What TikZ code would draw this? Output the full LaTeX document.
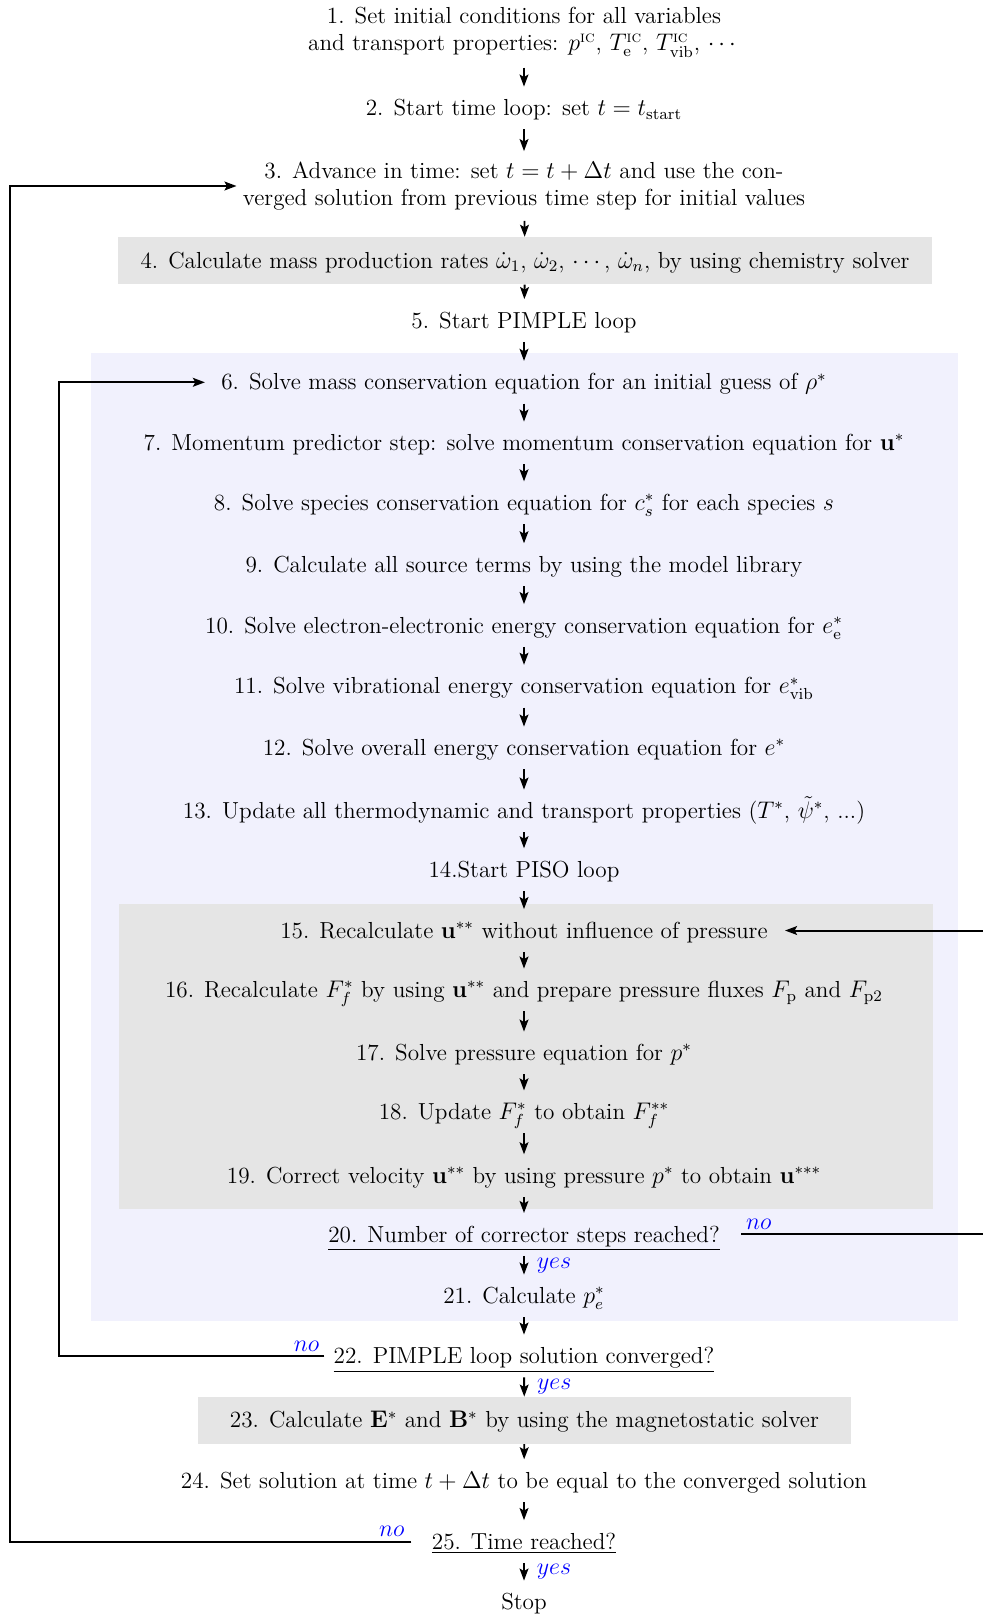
\documentclass[tikz,border=0pt]{standalone}
\usepackage{amsmath}
\usepackage{amssymb}
\usetikzlibrary{arrows.meta}
\definecolor{pimple_bg}{RGB}{241,241,253}
\definecolor{piso_bg}{RGB}{229,229,229}
\tikzset{
	flownode/.style = {
		align=center,
		inner xsep=5pt,
		inner ysep=2.8pt,
		text height=11.5pt,
		text depth=3.9pt,
		font=\fontsize{11.6}{13.8}\selectfont
	},
	node_step/.style = {
		flownode
	},
	node_two/.style = {
		flownode,
		text height=,
		text depth=,
		inner ysep=5pt
	},
	node_box/.style = {
		flownode,
		fill=piso_bg,
		minimum width=407pt,
		minimum height=23.5pt
	},
	node_box_small/.style = {
		node_box,
		minimum width=326.5pt,
		minimum height=23.3pt
	},
	node_dec/.style = {
		flownode,
		inner xsep=7pt
	},
	node_yes/.style = {
		font=\fontsize{12.8}{14}\selectfont,
		blue,
		right,
		inner sep=6pt
	},
	node_no/.style = {
		font=\fontsize{12.8}{14}\selectfont,
		blue,
		inner sep=2pt
	},
	line_step/.style = {
		->,
		line width=0.95pt
	},
	line_loop/.style = {
		->,
		line width=1pt
	}
}

\begin{document}
\begin{tikzpicture}[x=0.5pt, y=-0.5pt, >={Stealth[length=6pt, width=4.4pt, inset=1.2pt]}]
\useasboundingbox (0,0) rectangle (982,1616);
% loop backgrounds
\fill[pimple_bg] (90.7,353.4) rectangle (958.3,1321);
\fill[piso_bg] (118.5,903.7) rectangle (932.5,1208.7);
% steps
\node [node_two] (n1) at (524,32) {1. Set initial conditions for all variables\\and transport properties: $p^{\textsc{ic}}$, $T_{\mathrm{e}}^{\textsc{ic}}$, $T_{\mathrm{vib}}^{\textsc{ic}}$, $\cdots$};
\node [node_step] (n2) at (524,108) {2. Start time loop: set $t = t_{\mathrm{start}}$};
\node [node_two, inner xsep=3pt] (n3) at (524,186) {3. Advance in time: set $t = t + \Delta t$ and use the con-\\verged solution from previous time step for initial values};
\node [node_box] (n4) at (525,260.7) {4. Calculate mass production rates $\dot{\omega}_1$, $\dot{\omega}_2$, $\cdots$, $\dot{\omega}_n$, by using chemistry solver};
\node [node_step] (n5) at (524,320.5) {5. Start PIMPLE loop};
\node [node_step, inner xsep=8pt] (n6) at (524,382.3) {6. Solve mass conservation equation for an initial guess of $\rho^*$};
\node [node_step] (n7) at (524,443) {7. Momentum predictor step: solve momentum conservation equation for $\mathbf{u}^*$};
\node [node_step] (n8) at (524,502.8) {8. Solve species conservation equation for $c_s^*$ for each species $s$};
\node [node_step] (n9) at (524,564.7) {9. Calculate all source terms by using the model library};
\node [node_step] (n10) at (524,625.5) {10. Solve electron-electronic energy conservation equation for $e_{\mathrm{e}}^*$};
\node [node_step] (n11) at (524,686.2) {11. Solve vibrational energy conservation equation for $e_{\mathrm{vib}}^*$};
\node [node_step] (n12) at (524,748) {12. Solve overall energy conservation equation for $e^*$};
\node [node_step] (n13) at (524,811) {13. Update all thermodynamic and transport properties ($T^*$, $\tilde{\psi}^*$, ...)};
\node [node_step] (n14) at (524,869.7) {14.Start PISO loop};
\node [node_step, inner xsep=8.5pt] (n15) at (524,930.5) {15. Recalculate $\mathbf{u}^{**}$ without influence of pressure};
\node [node_step] (n16) at (524,990) {16. Recalculate $F_f^*$ by using $\mathbf{u}^{**}$ and prepare pressure fluxes $F_{\mathrm{p}}$ and $F_{\mathrm{p2}}$};
\node [node_step] (n17) at (524,1053) {17. Solve pressure equation for $p^*$};
\node [node_step] (n18) at (524,1111.8) {18. Update $F_f^*$ to obtain $F_f^{**}$};
\node [node_step] (n19) at (524,1175.7) {19. Correct velocity $\mathbf{u}^{**}$ by using pressure $p^*$ to obtain $\mathbf{u}^{***}$};
\node [node_dec, inner xsep=10.5pt] (n20) at (524,1234.4) {\underline{20. Number of corrector steps reached?}};
\node [node_step] (n21) at (524,1296) {21. Calculate $p_e^*$};
\node [node_dec, inner xsep=4.5pt] (n22) at (524,1356) {\underline{22. PIMPLE loop solution converged?}};
\node [node_box_small] (n23) at (524.4,1420.3) {23. Calculate $\mathbf{E}^*$ and $\mathbf{B}^*$ by using the magnetostatic solver};
\node [node_step] (n24) at (524,1480.7) {24. Set solution at time $t + \Delta t$ to be equal to the converged solution};
\node [node_dec, inner xsep=10pt] (n25) at (524,1541.5) {\underline{25. Time reached?}};
\node [node_step] (stop) at (524,1602) {Stop};
% loop return columns
\coordinate (x_time) at (10.3,0);
\coordinate (x_pimple) at (58.7,0);
\coordinate (x_piso) at (1000,0);
% main flow
\draw [line_step] (n1) -- (n2);
\draw [line_step] (n2) -- (n3);
\draw [line_step] (n3) -- (n4);
\draw [line_step] (n4) -- (n5);
\draw [line_step] (n5) -- (n6);
\draw [line_step] (n6) -- (n7);
\draw [line_step] (n7) -- (n8);
\draw [line_step] (n8) -- (n9);
\draw [line_step] (n9) -- (n10);
\draw [line_step] (n10) -- (n11);
\draw [line_step] (n11) -- (n12);
\draw [line_step] (n12) -- (n13);
\draw [line_step] (n13) -- (n14);
\draw [line_step] (n14) -- (n15);
\draw [line_step] (n15) -- (n16);
\draw [line_step] (n16) -- (n17);
\draw [line_step] (n17) -- (n18);
\draw [line_step] (n18) -- (n19);
\draw [line_step] (n19) -- (n20);
\draw [line_step] (n20) -- node [node_yes] {$yes$} (n21);
\draw [line_step] (n21) -- (n22);
\draw [line_step] (n22) -- node [node_yes] {$yes$} (n23);
\draw [line_step] (n23) -- (n24);
\draw [line_step] (n24) -- (n25);
\draw [line_step] (n25) -- node [node_yes] {$yes$} (stop);
% loops back
\draw [line_loop] (n20.east) -- node [node_no, pos=0, anchor=south west] {$no$} (n20.east -| x_piso) |- (n15.east);
\draw [line_loop] (n22.west) -- node [node_no, pos=0, anchor=south east] {$no$} (n22.west -| x_pimple) |- (n6.west);
\draw [line_loop] (n25.west) -- node [node_no, pos=0, anchor=south east, xshift=-1pt] {$no$} (n25.west -| x_time) |- (n3.west);
\end{tikzpicture}
\end{document}
